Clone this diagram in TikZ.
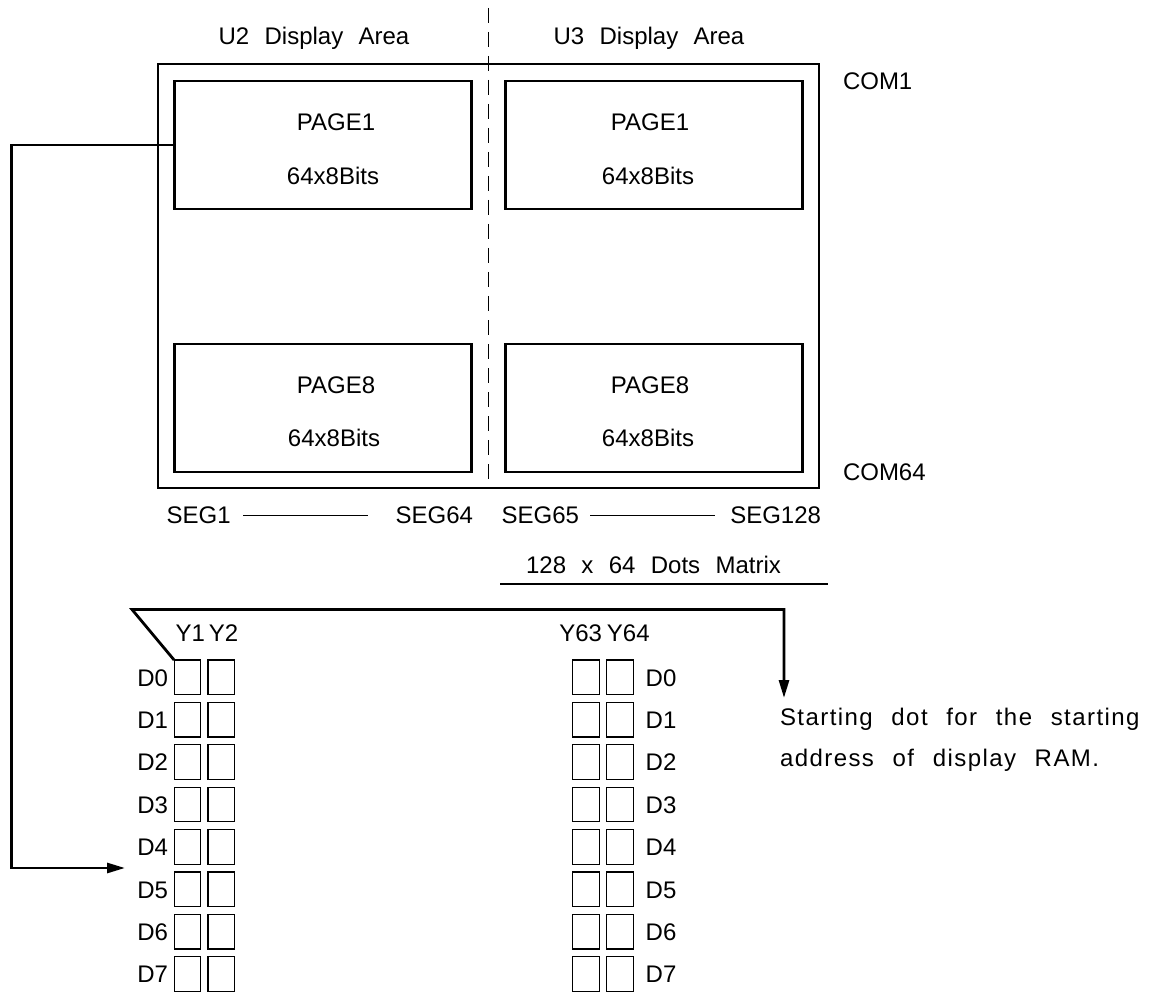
\documentclass[tikz,border=0pt]{standalone}
\usepackage{fontspec}
\setmainfont{Liberation Sans}[WordSpace=2.3]
\newfontfamily\spacedfont{Liberation Sans}[WordSpace=2.3,LetterSpace=6]
\usetikzlibrary{arrows.meta,calc}
\begin{document}
\begin{tikzpicture}[x=1pt,y=-1pt,
  txt/.style={font=\fontsize{24}{29}\selectfont, inner sep=0pt, outer sep=0pt},
  pagebox/.style={draw, line width=2.8pt, inner sep=0pt, outer sep=0pt, minimum width=297pt, minimum height=128pt},
  outerbox/.style={draw, line width=2.8pt, inner sep=0pt, outer sep=0pt, minimum width=661pt, minimum height=424pt},
  dotcell/.style={draw, line width=1.2pt, minimum width=26.5pt, minimum height=34.5pt, inner sep=0pt, outer sep=0pt},
  conn/.style={line width=2.8pt},
  arrowend/.style={-{Triangle[length=18pt,width=10pt]}},
  divider/.style={line width=1.2pt, dash pattern=on 15pt off 9pt},
  segline/.style={line width=1pt},
]
\useasboundingbox (0,0) rectangle (1168,995);

% outer matrix and dashed divider
\node[outerbox] (outer) at (488.5,276) {};
\coordinate (dtop) at (488.5,8);
\coordinate (dbot) at (488.5,488);
\draw[divider] (dtop) -- (dbot);

% headers
\node[txt, anchor=base] (u2) at (314,45) {U2 Display Area};
\node[txt, anchor=base] (u3) at (649,45) {U3 Display Area};

% page boxes
\node[pagebox] (p1l) at (323.25,145) {};
\node[pagebox] (p1r) at (654.25,145) {};
\node[pagebox] (p8l) at (323.25,408) {};
\node[pagebox] (p8r) at (654,408) {};

\node[txt, anchor=base] (p1lt) at (336,130.7) {PAGE1};
\node[txt, anchor=base] (p1lb) at (333,185) {64x8Bits};
\node[txt, anchor=base] (p1rt) at (650,130.7) {PAGE1};
\node[txt, anchor=base] (p1rb) at (648,185) {64x8Bits};
\node[txt, anchor=base] (p8lt) at (336,393.3) {PAGE8};
\node[txt, anchor=base] (p8lb) at (334,446) {64x8Bits};
\node[txt, anchor=base] (p8rt) at (650,393.3) {PAGE8};
\node[txt, anchor=base] (p8rb) at (648,446) {64x8Bits};

% COM labels
\node[txt, anchor=base west] (com1) at (843,89.3) {COM1};
\node[txt, anchor=base west] (com64) at (843,480) {COM64};

% SEG labels
\node[txt, anchor=base west] (seg1) at (166.7,523) {SEG1};
\node[txt, anchor=base east] (seg64) at (473,523) {SEG64};
\node[txt, anchor=base west] (seg65) at (501.7,523) {SEG65};
\node[txt, anchor=base east] (seg128) at (821,523) {SEG128};
\coordinate (sa1) at (243,515.5);
\coordinate (sa2) at (368,515.5);
\coordinate (sb1) at (590,515.5);
\coordinate (sb2) at (715,515.5);
\draw[segline] (sa1) -- (sa2);
\draw[segline] (sb1) -- (sb2);

% matrix caption
\node[txt, anchor=base] (dots) at (653.5,573.3) {128 x 64 Dots Matrix};
\coordinate (ul1) at (500,584);
\coordinate (ul2) at (828,584);
\draw[line width=2.6pt] (ul1) -- (ul2);

% column labels
\node[txt, anchor=base] (y12) at (207,641.7) {Y1\hspace{4pt}Y2};
\node[txt, anchor=base] (y6364) at (604.5,641.7) {Y63\hspace{5pt}Y64};

% cells and row labels
\foreach \i in {0,...,7} {
  \node[dotcell] (l1-\i) at (187.35,{677.25+42.4*\i}) {};
  \node[dotcell] (l2-\i) at (221.25,{677.25+42.4*\i}) {};
  \node[dotcell] (r1-\i) at (585.85,{677.25+42.4*\i}) {};
  \node[dotcell] (r2-\i) at (619.85,{677.25+42.4*\i}) {};
  \node[txt, anchor=base east] (dl-\i) at (168,{686+42.4*\i}) {D\i};
  \node[txt, anchor=base west] (dr-\i) at (645.7,{686+42.4*\i}) {D\i};
}

% starting dot note
\node[txt, anchor=base west] (start1) at (780,725) {\spacedfont Starting dot for the starting};
\node[txt, anchor=base west] (start2) at (780,766) {\spacedfont address of display RAM.};

% connectors
\coordinate (corner) at (132,609.5);
\coordinate (tipA) at (784,698);
\draw[conn, arrowend] (l1-0.north west) -- (corner) -- (corner -| tipA) -- (tipA);

\coordinate (elbowA) at (11.5,145);
\coordinate (tipB) at (125,868);
\draw[conn, arrowend] (p1l.west) -- (elbowA) -- (elbowA |- tipB) -- (tipB);
\end{tikzpicture}
\end{document}
